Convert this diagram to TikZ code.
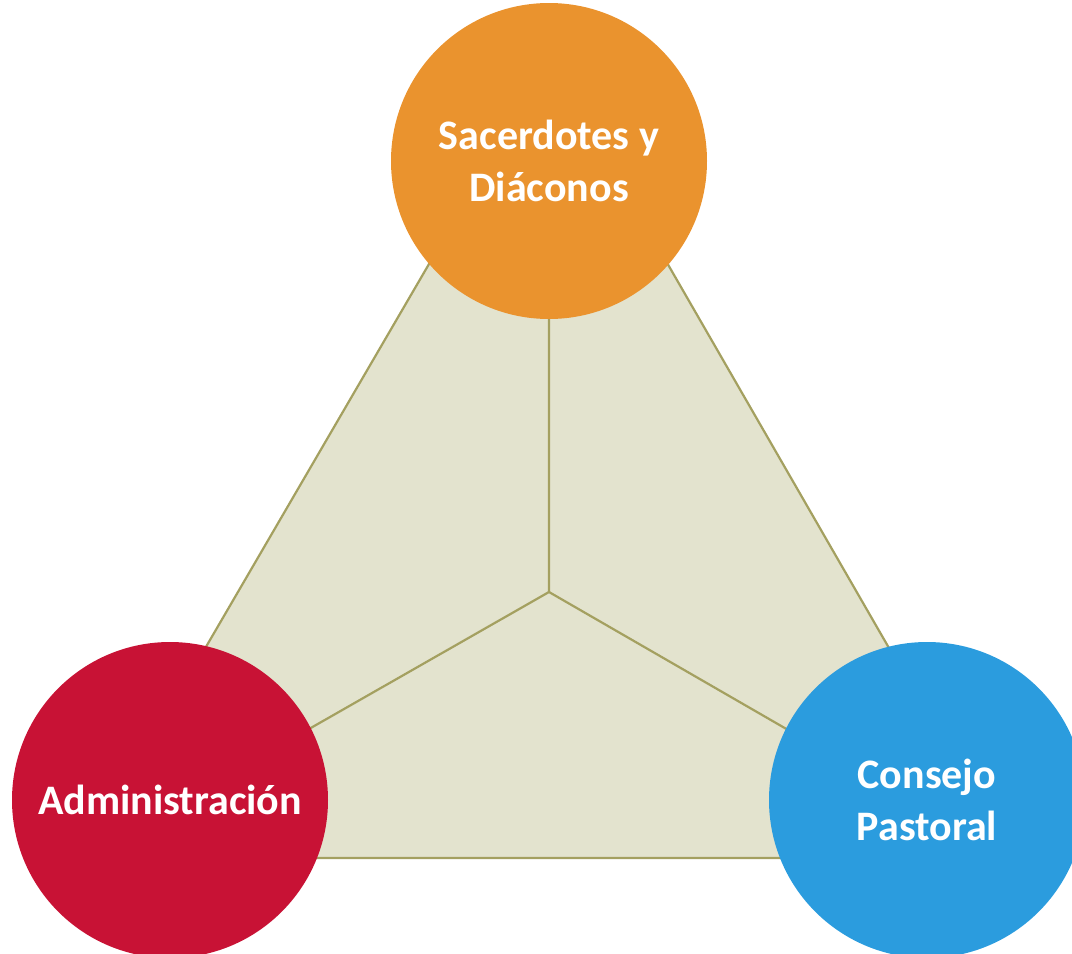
\documentclass[tikz,border=0pt]{standalone}
\usepackage{fontspec}
\setmainfont{Carlito}
\usepackage{xcolor}
\definecolor{sacorange}{HTML}{EA932E}
\definecolor{admred}{HTML}{C81235}
\definecolor{conblue}{HTML}{2B9CDE}
\definecolor{trifill}{HTML}{E3E3CE}
\definecolor{triline}{HTML}{A4A060}
\tikzset{
  rolecircle/.style={circle, minimum size=316pt, inner sep=0pt, text=white,
    font=\fontsize{42}{52}\selectfont\bfseries, align=center},
  triedge/.style={draw=triline, line width=2.2pt}
}

\begin{document}
\begin{tikzpicture}[x=1pt,y=-1pt]
\useasboundingbox (0,0) rectangle (1072,954);
\clip (0,0) rectangle (1072,954);
% triangle
\coordinate (top) at (549,58);
\coordinate (left) at (83,858);
\coordinate (right) at (1010,858);
\coordinate (mid) at (549,592);
\fill[trifill] (top) -- (left) -- (right) -- cycle;
\draw[triedge, line join=miter] (top) -- (left) -- (right) -- cycle;
\draw[triedge] (mid) -- (top) (mid) -- (left) (mid) -- (right);
% circles
\node[rolecircle, fill=sacorange] (sac) at (549,161) {Sacerdotes y\\Diáconos};
\node[rolecircle, fill=admred] (adm) at (170,800) {Administración};
\node[rolecircle, fill=conblue] (con) at (927,800) {Consejo\\Pastoral};
\end{tikzpicture}
\end{document}
